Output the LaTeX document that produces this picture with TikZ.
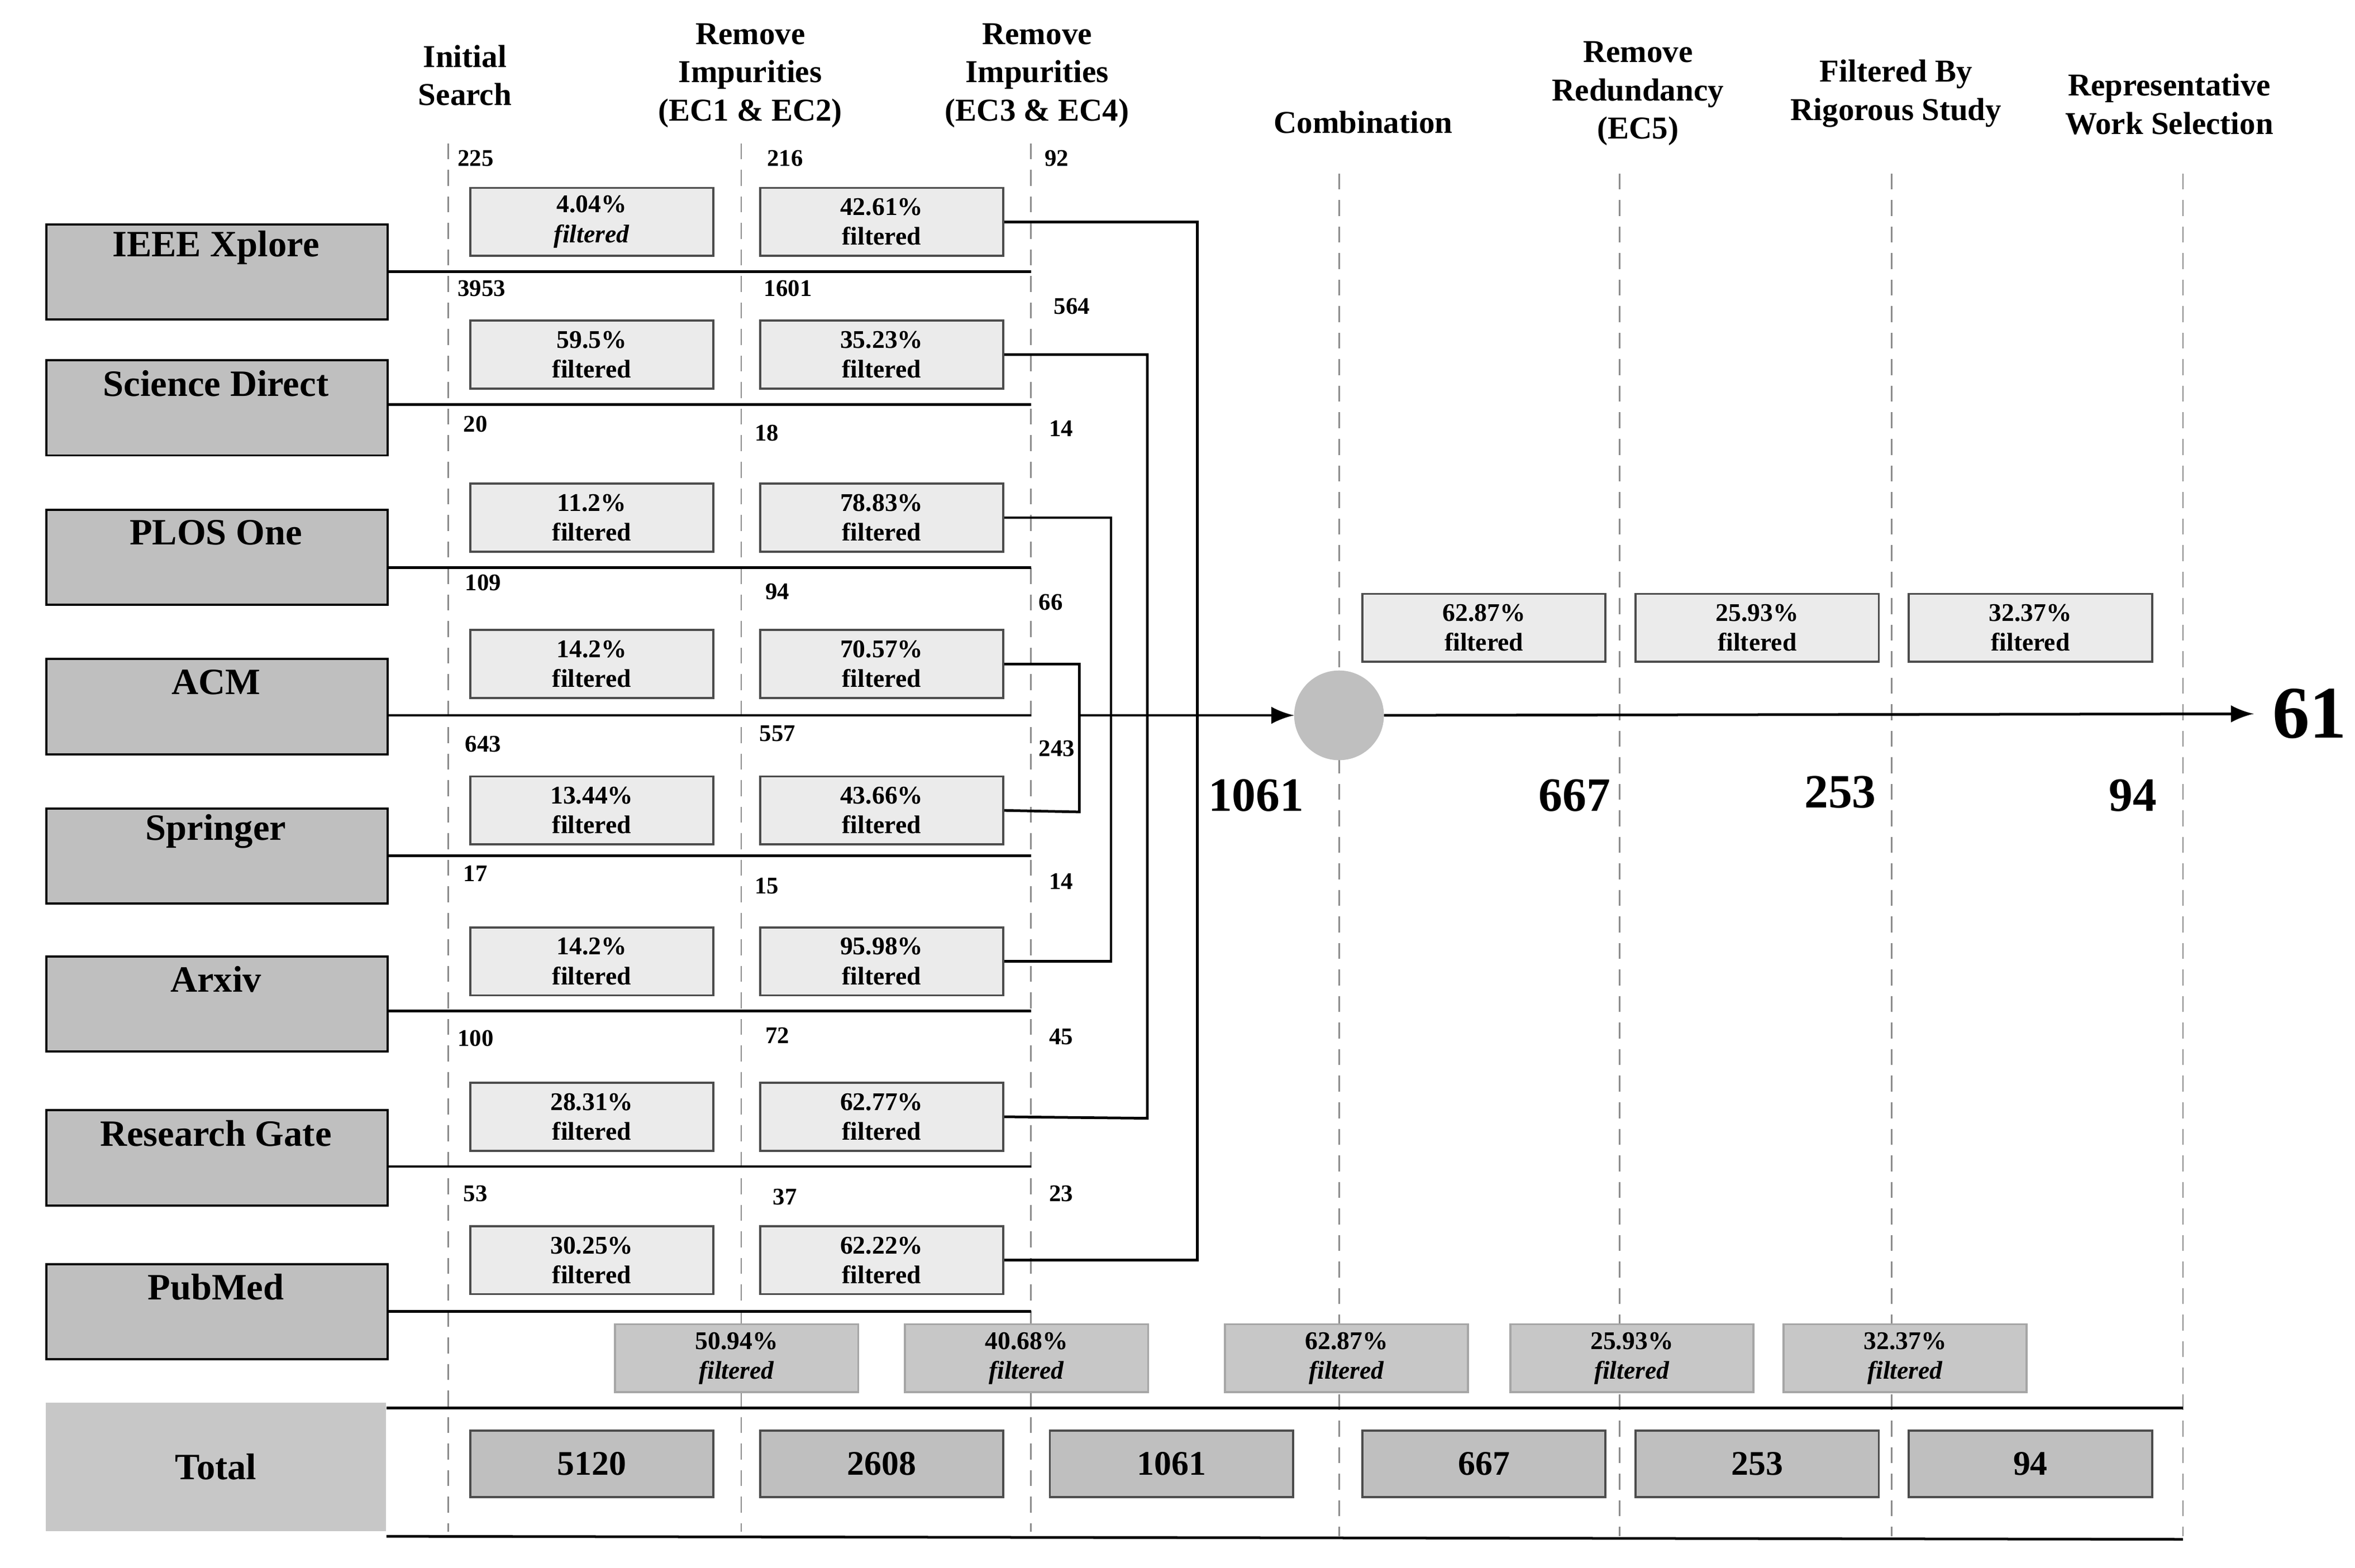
\documentclass[tikz,border=0pt]{standalone}
\usepackage{fontspec}
\setmainfont{Liberation Serif}
\begin{document}
\begin{tikzpicture}[x=0.01cm,y=-0.01cm,
 fb/.style={draw=black!70,fill=black!8,minimum width=1.61cm,minimum height=0.45cm,inner sep=0pt,align=center,font=\bfseries\fontsize{4.8}{5.6}\selectfont},
 db/.style={fb,fill=black!22,draw=black!35},
 tb/.style={draw=black!70,fill=black!25,minimum width=1.61cm,minimum height=0.44cm,inner sep=0pt,font=\bfseries\fontsize{6.5}{7}\selectfont},
 hd/.style={align=center,font=\bfseries\fontsize{6}{7.2}\selectfont},
 nm/.style={font=\bfseries\fontsize{4.5}{5}\selectfont},
 big/.style={font=\bfseries\fontsize{9}{10}\selectfont},
 dl/.style={densely dashed,black!45,line width=0.3pt},
 ln/.style={line width=0.5pt}]
\useasboundingbox (0,0) rectangle (1560,1039);
% headers
\node[hd] (h1) at (308,50) {Initial\\Search};
\node[hd] (h2) at (497,50) {Remove\\Impurities\\(EC1 \& EC2)};
\node[hd] (h3) at (687,50) {Remove\\Impurities\\(EC3 \& EC4)};
\node[hd] (h4) at (903,81) {Combination};
\node[hd] (h5) at (1085,62) {Remove\\Redundancy\\(EC5)};
\node[hd] (h6) at (1256,62) {Filtered By\\Rigorous Study};
\node[hd] (h7) at (1437,69) {Representative\\Work Selection};
% dashed lines
\foreach \x in {297,491,683} \draw[dl] (\x,95) -- (\x,1015);
\foreach \x in {887,1073,1253,1446} \draw[dl] (\x,115) -- (\x,1018);
% sources
\foreach \n/\t/\y/\ly in {a/IEEE Xplore/148/180, b/Science Direct/238/268, c/PLOS One/337/376, d/ACM/436/474, e/Springer/535/567, f/Arxiv/633/670, g/Research Gate/735/773, h/PubMed/837/869}{
 \node[draw,fill=black!25,minimum width=2.26cm,minimum height=0.63cm,anchor=north west,inner sep=0pt] (s\n) at (30,\y) {};
 \node[font=\bfseries\fontsize{7}{8}\selectfont] (t\n) at (143,\y+16) {\t};
 \coordinate (le\n) at (683,\ly);
 \draw[ln] (s\n.east|-le\n) -- (le\n);
}
% filter boxes
\foreach \n/\y/\pa/\pb/\it in {a/147/4.04/42.61/1, b/235/59.5/35.23/0, c/343/11.2/78.83/0, d/440/14.2/70.57/0, e/537/13.44/43.66/0, f/637/14.2/95.98/0, g/740/28.31/62.77/0, h/835/30.25/62.22/0}{
 \ifnum\it=1
 \node[fb] (p\n) at (392,\y) {\pa\%\\\textit{filtered}};
 \else
 \node[fb] (p\n) at (392,\y) {\pa\%\\filtered};
 \fi
 \node[fb] (q\n) at (584,\y) {\pb\%\\filtered};
}
% numbers
\foreach \t/\x/\y in {225/315/105,216/520/105,92/700/105,3953/319/191,1601/522/191,564/710/203,20/315/281,18/508/287,14/703/284,109/320/386,94/515/392,66/696/399,643/320/493,557/515/486,243/700/496,17/315/579,15/508/587,14/703/584,100/315/688,72/515/686,45/703/687,53/315/791,37/520/793,23/703/791}
 \node[nm] at (\x,\y) {\t};
% connectors
\node[circle,fill=black!25,draw=black!25,minimum size=0.58cm,inner sep=0pt] (cmb) at (887,474) {};
\draw[ln] (qa.east) -| (793,835) -- (qh.east);
\draw[ln] (qb.east) -| (760,741) -- (qg.east);
\draw[ln] (qc.east) -| (736,637) -- (qf.east);
\draw[ln] (qd.east) -| (715,538) -- (qe.east);
\coordinate (j) at (715,474);
\draw[ln,-latex] (j) -- (cmb.west);
\node[font=\bfseries\fontsize{14}{16}\selectfont] (r) at (1530,473) {61};
\draw[ln,-latex] (cmb.east) -- (r.west);
% big numbers
\node[big] at (832,527) {1061};
\node[big] at (1043,527) {667};
\node[big] at (1219,525) {253};
\node[big] at (1413,527) {94};
% upper filter boxes
\node[fb] (u1) at (983,416) {62.87\%\\filtered};
\node[fb] (u2) at (1164,416) {25.93\%\\filtered};
\node[fb] (u3) at (1345,416) {32.37\%\\filtered};
% bottom filter boxes
\node[db] (b1) at (488,900) {50.94\%\\\textit{filtered}};
\node[db] (b2) at (680,900) {40.68\%\\\textit{filtered}};
\node[db] (b3) at (892,900) {62.87\%\\\textit{filtered}};
\node[db] (b4) at (1081,900) {25.93\%\\\textit{filtered}};
\node[db] (b5) at (1262,900) {32.37\%\\\textit{filtered}};
% total
\node[fill=black!22,minimum width=2.25cm,minimum height=0.85cm,inner sep=0pt,font=\bfseries\fontsize{7}{8}\selectfont] (tot) at (143,972) {Total};
\coordinate (l1a) at (256,933); \coordinate (l1b) at (1446,933);
\coordinate (l2a) at (256,1018); \coordinate (l2b) at (1446,1020);
\draw[ln] (l1a) -- (l1b);
\draw[ln] (l2a) -- (l2b);
\foreach \t/\x in {5120/392,2608/584,1061/776,667/983,253/1164,94/1345}
 \node[tb] at (\x,970) {\t};
\end{tikzpicture}
\end{document}
